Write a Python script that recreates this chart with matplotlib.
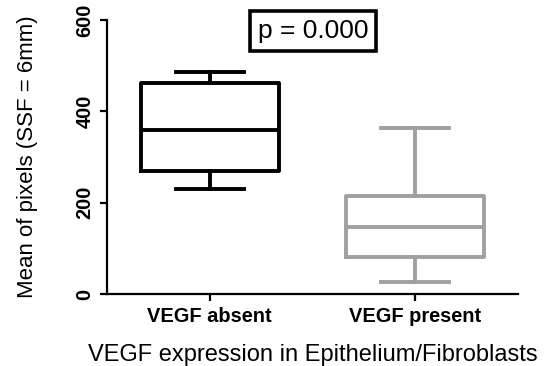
import matplotlib
matplotlib.use("Agg")
import matplotlib.pyplot as plt

categories = ["VEGF absent", "VEGF present"]
whislo = [230, 26]
q1 = [270, 80]
medians = [359, 146]
q3 = [463, 215]
whishi = [486, 363]
colors = ["#000000", "#a0a0a0"]
yticks = [0, 200, 400, 600]
p_text = "p = 0.000"

plt.rcParams['font.family'] = ['Liberation Sans', 'DejaVu Sans']

fig = plt.figure(figsize=(5.49, 3.66), dpi=100)
ax = fig.add_axes([107/549, 1-294/366, (518-107)/549, (294-20)/366])

for i, c in enumerate(categories):
    st = [dict(label=c, whislo=whislo[i], q1=q1[i], med=medians[i], q3=q3[i], whishi=whishi[i], fliers=[])]
    lw = 2.8
    ax.bxp(st, positions=[i+1], widths=0.67, showfliers=False,
           boxprops=dict(color=colors[i], linewidth=lw),
           medianprops=dict(color=colors[i], linewidth=lw),
           whiskerprops=dict(color=colors[i], linewidth=lw),
           capprops=dict(color=colors[i], linewidth=lw),
           capwidths=0.33, manage_ticks=False)

ax.set_xlim(0.5, 2.5)
ax.set_ylim(0, 600)
ax.set_xticks([1, 2])
ax.set_xticklabels(categories, fontsize=14.4, fontweight='bold')
ax.set_yticks(yticks)
ax.set_yticklabels([str(t) for t in yticks], fontsize=14.4, fontweight='bold', rotation=90, va='center')
for s in ['top', 'right']:
    ax.spines[s].set_visible(False)
for s in ['left', 'bottom']:
    ax.spines[s].set_linewidth(1.6)
ax.tick_params(axis='both', direction='out', length=5, width=1.6, pad=4)

ax.set_ylabel("Mean of pixels (SSF = 6mm)", fontsize=16, labelpad=27)
ax.set_xlabel("VEGF expression in Epithelium/Fibroblasts", fontsize=17, labelpad=13)

ax.text(1.502, 576, p_text, fontsize=19, ha='center', va='center',
        bbox=dict(boxstyle='square,pad=0.3', facecolor='white', edgecolor='black', linewidth=2.6))

fig.savefig("out.png", dpi=100)
